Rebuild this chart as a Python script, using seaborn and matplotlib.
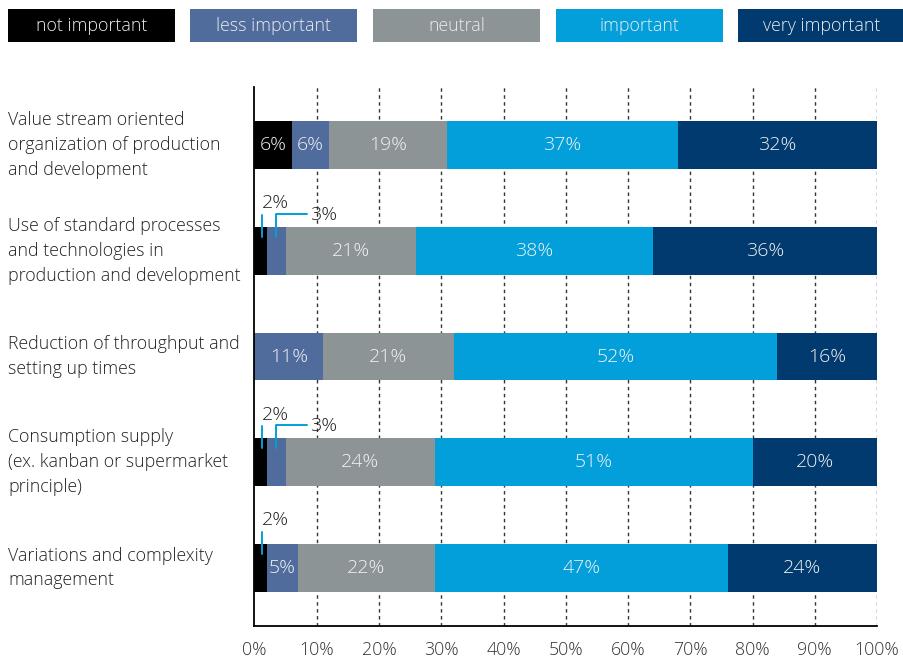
import seaborn as sns
import pandas as pd
import matplotlib.pyplot as plt
from matplotlib.patches import Rectangle

levels = ["not important", "less important", "neutral", "important", "very important"]
colors = ["#000000", "#506c9c", "#8c9496", "#039fdb", "#003a6e"]

topics = [
    "Value stream oriented\norganization of production\nand development",
    "Use of standard processes\nand technologies in\nproduction and development",
    "Reduction of throughput and\nsetting up times",
    "Consumption supply\n(ex. kanban or supermarket\nprinciple)",
    "Variations and complexity\nmanagement",
]
not_important = [6, 2, 0, 2, 2]
less_important = [6, 3, 11, 3, 5]
neutral = [19, 21, 21, 24, 22]
important = [37, 38, 52, 51, 47]
very_important = [32, 36, 16, 20, 24]

sns.set_theme(style="white")
plt.rcParams["font.family"] = ["Open Sans", "DejaVu Sans"]
plt.rcParams["font.weight"] = "light"

def data():
    df = pd.DataFrame({"topic": topics,
                       "not important": not_important,
                       "less important": less_important,
                       "neutral": neutral,
                       "important": important,
                       "very important": very_important})
    long = df.melt(id_vars="topic", var_name="level", value_name="share")
    long["level"] = pd.Categorical(long["level"], levels, ordered=True)
    long = long.sort_values(["topic", "level"])
    long["end"] = long.groupby("topic", sort=False)["share"].cumsum()
    long["start"] = long["end"] - long["share"]
    return long

long = data()

fig = plt.figure(figsize=(9.04, 6.66), dpi=100)
ax = fig.add_axes([254.5 / 904, 1 - 626 / 666, (877 - 254.5) / 904, (626 - 87) / 666])

# stacked look: cumulative bars drawn back to front
sns.barplot(data=long, x="end", y="topic", hue="level", order=topics,
            hue_order=levels[::-1], palette=dict(zip(levels, colors)),
            dodge=False, orient="h", width=0.454, saturation=1,
            linewidth=0, errorbar=None, legend=False, ax=ax)

fs = 14
ax.set_xlim(0, 100)
ax.set_ylim(4.55, -0.55)
ax.set_xticks(range(0, 101, 10))
ax.set_xticklabels([f"{t}%" for t in range(0, 101, 10)], fontsize=12.8, color="#333333")
ax.tick_params(axis="x", length=0, pad=11)
ax.set_yticks([])
ax.set_xlabel("")
ax.set_ylabel("")
for t in range(10, 101, 10):
    ax.axvline(t, color="#333333", linestyle=(0, (2.5, 2.5)), linewidth=1, zorder=0)
for s in ["top", "right"]:
    ax.spines[s].set_visible(False)
for s in ["left", "bottom"]:
    ax.spines[s].set_color("black")
    ax.spines[s].set_linewidth(1.3)

# topic labels on the left
for i, topic in enumerate(topics):
    fig.text(8 / 904, ax.transData.transform((0, i))[1] / fig.bbox.height, topic,
             ha="left", va="center", fontsize=12.8, color="#222222", linespacing=1.48)

# value labels and callouts
callout = "#039fdb"
for _, r in long.iterrows():
    i = topics.index(r["topic"])
    if r["share"] == 0:
        continue
    label = f"{r['share']}%"
    small = r["share"] <= 3 and r["level"] in ("not important", "less important")
    if not small:
        ax.text((r["start"] + r["end"]) / 2, i, label, ha="center", va="center",
                fontsize=fs, color="#f2f2f2")
    elif r["level"] == "not important":
        lx = r["start"] + r["share"] * 0.6
        ax.plot([lx, lx], [i - 0.13, i - 0.34], color=callout, lw=1.4)
        ax.text(lx + 2.2, i - 0.45, label, ha="center", va="center",
                fontsize=fs, color="#222222")
    else:
        lx = r["start"] + r["share"] / 2
        ax.plot([lx, lx, lx + 4.9], [i - 0.13, i - 0.35, i - 0.35], color=callout, lw=1.4)
        ax.text(lx + 5.4, i - 0.34, label, ha="left", va="center",
                fontsize=fs, color="#222222")

# legend boxes across the top
for k, (lev, col) in enumerate(zip(levels, colors)):
    x0 = 8 + k * 182.5
    fig.patches.append(Rectangle((x0 / 904, 1 - 42 / 666), 167 / 904, 33 / 666,
                                 transform=fig.transFigure, color=col, lw=0))
    fig.text((x0 + 83.5) / 904, 1 - 26 / 666, lev, ha="center", va="center",
             fontsize=12.8, color="#ececec")

fig.savefig("out.png", dpi=100)
